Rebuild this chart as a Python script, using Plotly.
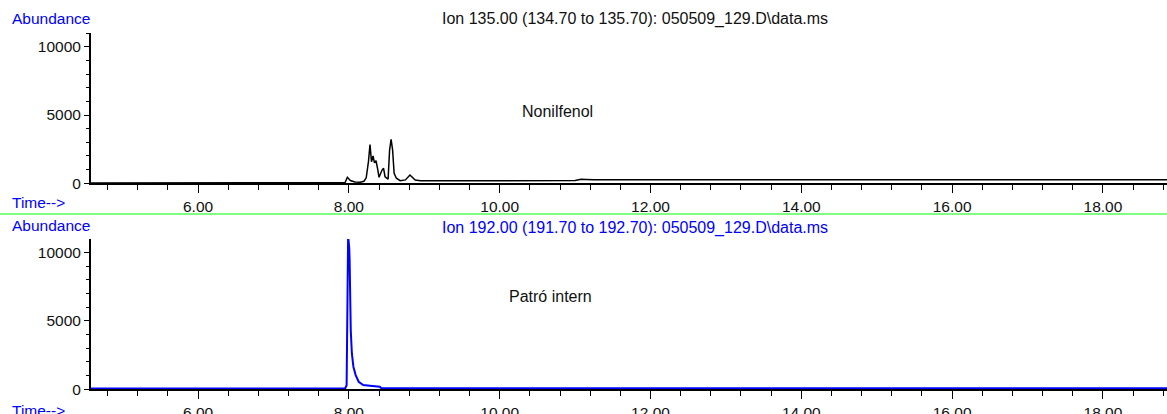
import plotly.graph_objects as go

# ---- data ----
ion135_time = [4.58, 7.95, 7.98, 8.02, 8.08, 8.15, 8.20, 8.23, 8.26, 8.28, 8.30, 8.32,
               8.34, 8.36, 8.38, 8.40, 8.44, 8.46, 8.48, 8.52, 8.54, 8.56, 8.58, 8.60,
               8.63, 8.68, 8.75, 8.81, 8.88, 8.95, 11.00, 11.08, 11.15, 11.25, 18.85]
ion135_abund = [30, 50, 440, 200, 100, 80, 150, 400, 1600, 2840, 1580, 2000,
                1500, 1650, 1100, 440, 970, 1100, 480, 300, 2440, 3220, 2440, 730,
                370, 190, 250, 610, 240, 180, 200, 300, 280, 260, 260]

ion192_time = [4.58, 7.95, 7.97, 7.98, 7.99, 8.005, 8.01, 8.025, 8.04, 8.06, 8.09,
               8.13, 8.19, 8.28, 8.41, 8.43, 18.85]
ion192_abund = [60, 60, 300, 8000, 11200, 10300, 9400, 4300, 2600, 1650, 1040,
                550, 310, 260, 190, 80, 80]

x_ticks = [6, 8, 10, 12, 14, 16, 18]
y_ticks = [0, 5000, 10000]
y_tick_labels = ["0", "5000", "10000"]

title_top = "Ion 135.00 (134.70 to 135.70): 050509_129.D\\data.ms"
title_bottom = "Ion 192.00 (191.70 to 192.70): 050509_129.D\\data.ms"
label_top = "Nonilfenol"
label_bottom = "Patró intern"

W, H = 1167, 414
FONT = "Liberation Sans, Arial, sans-serif"
BLUE = "#0000ff"


def py(p):
    return 1 - p / H


def px(p):
    return p / W


fig = go.Figure()
fig.add_trace(go.Scatter(x=ion135_time, y=ion135_abund, mode="lines",
                         line=dict(color="black", width=1.5), xaxis="x", yaxis="y",
                         showlegend=False))
fig.add_trace(go.Scatter(x=ion192_time, y=ion192_abund, mode="lines",
                         line=dict(color=BLUE, width=2), xaxis="x2", yaxis="y2",
                         showlegend=False))

xcommon = dict(range=[4.58, 18.85], tickmode="array", tickvals=x_ticks,
               tickformat=".2f", ticks="outside", ticklen=8, tickwidth=1,
               tickcolor="black", showline=True, linecolor="black", linewidth=2,
               showgrid=False, zeroline=False, automargin=False,
               tickfont=dict(family=FONT, size=15.5, color="#111"),
               minor=dict(dtick=0.4, tick0=0, ticks="outside", ticklen=5,
                          tickcolor="black", tickwidth=1, showgrid=False),
               domain=[px(91), 1], fixedrange=True)
ycommon = dict(tickmode="array", tickvals=y_ticks, ticktext=y_tick_labels,
               ticks="outside", ticklen=5, automargin=False,
               tickwidth=1, tickcolor="black", showline=True, linecolor="black",
               linewidth=2, showgrid=False, zeroline=False,
               tickfont=dict(family=FONT, size=15.5, color="#111"),
               minor=dict(dtick=1000, tick0=0, ticks="outside", ticklen=3,
                          tickcolor="black", tickwidth=1, showgrid=False),
               fixedrange=True)

fig.update_layout(
    width=W, height=H, margin=dict(l=0, r=0, t=0, b=0, autoexpand=False),
    paper_bgcolor="white", plot_bgcolor="white",
    xaxis=dict(**xcommon, anchor="y"),
    yaxis=dict(**ycommon, anchor="x", domain=[py(183.3), py(33)], range=[0, 11003]),
    xaxis2=dict(**xcommon, anchor="y2"),
    yaxis2=dict(**ycommon, anchor="x2", domain=[py(389.3), py(239)], range=[0, 10971]),
)

ann = []


def add_text(text, x, y, color="#111", size=15.5, xanchor="left"):
    ann.append(dict(text=text, x=px(x), y=py(y), xref="paper", yref="paper",
                    xanchor=xanchor, yanchor="middle", showarrow=False,
                    font=dict(family=FONT, size=size, color=color)))


add_text("Abundance", 10, 19, BLUE)
add_text("Time-->", 10, 203, BLUE)
add_text("Abundance", 10, 225, BLUE)
add_text("Time-->", 10, 410, BLUE)
add_text(title_top, 635, 19.5, "#111", 16, "center")
add_text(title_bottom, 635, 228, BLUE, 16, "center")
add_text(label_top, 557, 111, "#111", 16, "center")
add_text(label_bottom, 550, 296, "#111", 16, "center")
fig.update_layout(annotations=ann)

fig.add_shape(type="line", xref="paper", yref="paper", x0=0, x1=1,
              y0=py(214), y1=py(214), line=dict(color="#80ff80", width=2))

fig.write_html("out.html", config={"displayModeBar": False})
